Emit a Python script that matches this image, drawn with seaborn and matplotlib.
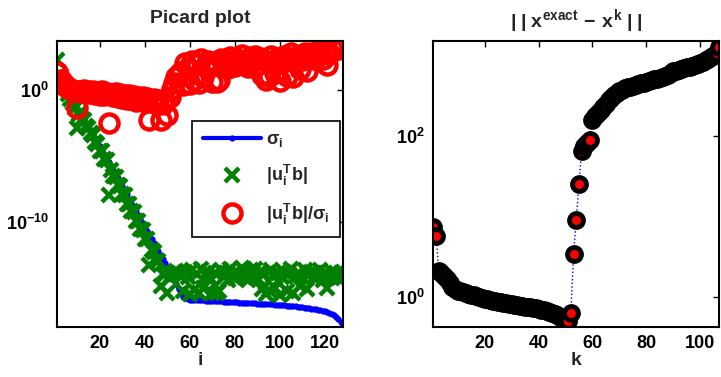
import matplotlib
matplotlib.use('Agg')
import numpy as np
import pandas as pd
import matplotlib.pyplot as plt
import seaborn as sns
from matplotlib.ticker import FixedLocator, LogFormatterMathtext, NullLocator

# ---------------- data (log10 exponents) ----------------
i_idx = list(range(1, 129))

sigma_log10 = [
    0.90, 0.62, 0.35, 0.10, -0.18, -0.45, -0.72, -0.98, -1.25, -1.50,
    -1.78, -2.03, -2.30, -2.55, -2.80, -3.05, -3.35, -3.68, -3.98, -4.25,
    -4.55, -4.85, -5.15, -5.45, -5.78, -6.08, -6.38, -6.68, -6.98, -7.30,
    -7.62, -7.92, -8.25, -8.55, -8.85, -9.18, -9.48, -9.80, -10.10, -10.40,
    -10.72, -11.02, -11.32, -11.62, -11.95, -12.25, -12.55, -12.85, -13.15, -13.48,
    -13.80, -14.10, -14.40, -14.75, -15.10, -15.45, -15.70, -15.82, -15.88, -15.92,
    -15.93, -15.94, -15.95, -15.96, -15.97, -15.98, -15.99, -16.00, -16.01, -16.02,
    -16.03, -16.04, -16.05, -16.06, -16.07, -16.08, -16.09, -16.10, -16.11, -16.12,
    -16.13, -16.14, -16.15, -16.16, -16.17, -16.18, -16.19, -16.20, -16.21, -16.22,
    -16.23, -16.24, -16.25, -16.26, -16.27, -16.28, -16.29, -16.30, -16.31, -16.32,
    -16.34, -16.35, -16.37, -16.38, -16.40, -16.42, -16.44, -16.46, -16.48, -16.50,
    -16.52, -16.55, -16.57, -16.60, -16.63, -16.66, -16.70, -16.74, -16.78, -16.82,
    -16.87, -16.93, -17.00, -17.10, -17.22, -17.38, -17.60, -17.95,
]

utb_log10 = [
    2.27, 1.17, 1.10, 0.55, 0.12, -0.30, -0.67, -0.98, -1.35, -2.90,
    -1.83, -2.18, -2.30, -2.75, -2.90, -3.30, -3.40, -3.98, -4.13, -4.60,
    -4.65, -5.25, -5.35, -7.95, -6.08, -6.53, -6.63, -7.23, -7.28, -7.90,
    -7.97, -8.62, -8.65, -9.20, -9.30, -9.98, -9.98, -10.55, -10.65, -11.30,
    -11.32, -13.32, -12.17, -12.27, -12.95, -13.00, -14.85, -13.95, -13.95, -15.38,
    -14.30, -14.00, -13.90, -13.75, -13.90, -14.10, -15.30, -13.80, -14.20, -15.50,
    -13.70, -15.20, -14.00, -15.40, -13.60, -15.00, -14.10, -13.80, -14.30, -15.40,
    -13.90, -15.40, -15.30, -13.70, -14.20, -13.90, -14.40, -13.60, -14.00, -14.30,
    -13.80, -14.10, -13.50, -14.20, -13.90, -14.40, -13.70, -14.00, -13.60, -14.30,
    -13.80, -15.10, -14.00, -15.50, -15.20, -13.70, -14.10, -15.00, -13.90, -15.60,
    -14.20, -13.80, -15.30, -14.00, -13.60, -15.40, -14.10, -13.90, -14.90, -14.20,
    -13.70, -15.10, -14.00, -13.80, -14.30, -13.90, -14.10, -13.70, -14.40, -13.90,
    -15.00, -14.20, -13.80, -14.10, -14.00, -14.30, -13.90, -14.30,
]

k_idx = list(range(1, 108))
err_log10 = [
    0.87, 0.76, 0.32, 0.29, 0.26, 0.22, 0.17, 0.12, 0.09, 0.07,
    0.065, 0.055, 0.045, 0.035, 0.025, 0.015, 0.005, -0.005, -0.015, -0.025,
    -0.035, -0.045, -0.052, -0.06, -0.066, -0.072, -0.078, -0.084, -0.09, -0.095,
    -0.10, -0.106, -0.112, -0.118, -0.124, -0.13, -0.136, -0.142, -0.148, -0.155,
    -0.162, -0.17, -0.18, -0.19, -0.20, -0.215, -0.23, -0.25, -0.27, -0.29,
    -0.30, -0.20, 0.53, 0.96, 1.41, 1.82, 1.88, 1.92, 1.95, 2.20,
    2.25, 2.29, 2.33, 2.37, 2.41, 2.45, 2.48, 2.51, 2.54, 2.56,
    2.58, 2.60, 2.61, 2.62, 2.63, 2.64, 2.65, 2.66, 2.67, 2.68,
    2.69, 2.70, 2.71, 2.72, 2.73, 2.74, 2.75, 2.77, 2.79, 2.81,
    2.82, 2.83, 2.84, 2.85, 2.86, 2.87, 2.88, 2.89, 2.90, 2.91,
    2.93, 2.95, 2.97, 2.99, 3.01, 3.04, 3.12,
]

left_xticks = [20, 40, 60, 80, 100, 120]
right_xticks = [20, 40, 60, 80, 100]
left_yticks = [1e-10, 1e0]
right_yticks = [1e0, 1e2]

sigma = 10.0 ** np.array(sigma_log10)
utb = 10.0 ** np.array(utb_log10)
ratio = utb / sigma
err = 10.0 ** np.array(err_log10)

picard = pd.DataFrame({"i": i_idx, "sigma": sigma, "utb": utb, "ratio": ratio})
errdf = pd.DataFrame({"k": k_idx, "err": err})

# ---------------- style ----------------
sns.set_style('white')
plt.rcParams['font.family'] = ['Liberation Sans', 'DejaVu Sans']
plt.rcParams['font.weight'] = 'bold'
plt.rcParams['mathtext.fontset'] = 'custom'
plt.rcParams['mathtext.rm'] = 'Liberation Sans:bold'
plt.rcParams['mathtext.it'] = 'Liberation Sans:bold'
plt.rcParams['mathtext.bf'] = 'Liberation Sans:bold'
plt.rcParams['mathtext.sf'] = 'Liberation Sans:bold'

fig = plt.figure(figsize=(7.21, 3.77), dpi=100)
ax1 = fig.add_axes([0.079, 0.1326, 0.3967, 0.7586])
ax2 = fig.add_axes([0.601, 0.1326, 0.3965, 0.7586])

# ---------------- left: Picard plot ----------------
sns.lineplot(data=picard, x="i", y="sigma", ax=ax1, color='#0000ff', lw=3.0,
             marker='.', markersize=9, markeredgewidth=0,
             markerfacecolor='#0000ff', estimator=None,
             label=r'$\sigma_i$', sort=False)
sns.lineplot(data=picard, x="i", y="utb", ax=ax1, color='#007f00', linestyle='',
             marker='x', markersize=9.5, markeredgewidth=3.2,
             markeredgecolor='#007f00', estimator=None,
             label=r'$|u_i^Tb|$', sort=False)
sns.lineplot(data=picard, x="i", y="ratio", ax=ax1, color='#ff0000', linestyle='',
             marker='o', markersize=13, markerfacecolor='none',
             markeredgecolor='#ff0000', markeredgewidth=3.2, estimator=None,
             label=r'$|u_i^Tb|/\sigma_i$', sort=False)
ax1.set_yscale('log')
ax1.set_xlim(1, 128)
ax1.set_ylim(10 ** -18.0, 10 ** 3.72)
ax1.set_title('Picard plot', fontsize=14, fontweight='bold', pad=13)
ax1.set_xlabel('i', fontsize=14, fontweight='bold', labelpad=0)
ax1.set_ylabel('')
ax1.xaxis.set_major_locator(FixedLocator(left_xticks))
ax1.yaxis.set_major_locator(FixedLocator(left_yticks))
ax1.yaxis.set_major_formatter(LogFormatterMathtext())
ax1.yaxis.set_minor_locator(NullLocator())

leg = ax1.legend(loc='upper right', bbox_to_anchor=(0.99, 0.722), fontsize=13,
                 frameon=True, fancybox=False, framealpha=1, edgecolor='black',
                 handlelength=3.2, labelspacing=0.75, borderpad=0.6,
                 handletextpad=0.3, borderaxespad=0)
leg.get_frame().set_linewidth(1.2)

# ---------------- right: error norm ----------------
sns.lineplot(data=errdf, x="k", y="err", ax=ax2, color='#0000ff', linestyle=':',
             lw=1.0, marker='o', markersize=10, markerfacecolor='#ff0000',
             markeredgecolor='black', markeredgewidth=3.5, estimator=None,
             sort=False, legend=False)
ax2.set_yscale('log')
ax2.set_xlim(1, 107)
ax2.set_ylim(10 ** -0.38, 10 ** 3.19)
ax2.set_title(r'$|\;|\;x^{exact}\,-\,x^{k}\;|\;|$', fontsize=14, pad=10)
ax2.set_xlabel('k', fontsize=14, fontweight='bold', labelpad=0)
ax2.set_ylabel('')
ax2.xaxis.set_major_locator(FixedLocator(right_xticks))
ax2.yaxis.set_major_locator(FixedLocator(right_yticks))
ax2.yaxis.set_major_formatter(LogFormatterMathtext())
ax2.yaxis.set_minor_locator(NullLocator())

for ax in (ax1, ax2):
    for sp in ax.spines.values():
        sp.set_visible(True)
        sp.set_color('black')
        sp.set_linewidth(1.5)
    ax.tick_params(axis='both', which='major', direction='in', length=4,
                   width=1, top=True, right=True, labelsize=13, pad=6,
                   colors='black')
    for lab in ax.get_xticklabels() + ax.get_yticklabels():
        lab.set_fontweight('bold')

fig.savefig('out.png', dpi=100)
